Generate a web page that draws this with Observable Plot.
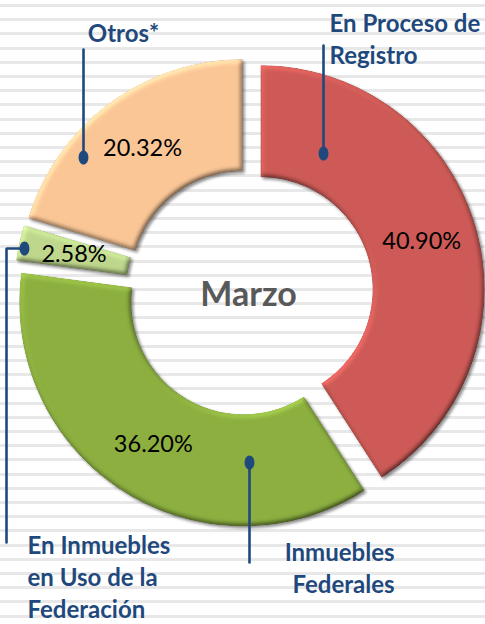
<!DOCTYPE html>
<html>
<head>
<meta charset="utf-8">
<script src="https://cdn.jsdelivr.net/npm/d3@7"></script>
<script src="https://cdn.jsdelivr.net/npm/@observablehq/plot@0.6"></script>
<style>
  html, body { margin: 0; padding: 0; }
  body {
    width: 485px; height: 624px; overflow: hidden;
    background: repeating-linear-gradient(180deg, #ffffff 0px, #ffffff 4px, #e8e8e8 4px, #e8e8e8 7px, #ffffff 7px, #ffffff 14.2px);
  }
  #chart svg { display: block; }
</style>
</head>
<body>
<div id="chart"></div>
<script>
// ---- data ----
const categories = ["En Proceso de Registro", "Inmuebles Federales", "En Inmuebles en Uso de la Federación", "Otros*"];
const values = [40.90, 36.20, 2.58, 20.32];
const valueLabels = ["40.90%", "36.20%", "2.58%", "20.32%"];
const calloutTexts = ["En Proceso de\nRegistro", "Inmuebles\nFederales", "En Inmuebles\nen Uso de la\nFederación", "Otros*"];
const centerLabel = "Marzo";

// ---- styles / layout ----
const sliceColors = ["#CD5A56", "#8CAF40", "#BED78C", "#FAC696"];
const W = 485, H = 624;
const geom = {cx: 249, cy: 292, outer: 224, inner: 112, explode: 11.5};
const ink = "#1F497D";
// callout layout: leader path (dot first), label anchor
const calloutLayout = [
  {path: [[323, 153], [323, 45]], tx: 329, ty: 63, anchor: "start"},
  {path: [[249, 462], [249, 562]], tx: 394, ty: 592, anchor: "end"},
  {path: [[24, 248], [6, 248], [6, 542]], tx: 27, ty: 617, anchor: "start"},
  {path: [[83, 157], [83, 49]], tx: 123, ty: 41, anchor: "middle"}
];

// ---- build slice geometry from values ----
const arcs = d3.pie().sort(null).value(d => d)(values);
const slices = arcs.map((a, i) => {
  const mid = (a.startAngle + a.endAngle) / 2;
  const ox = geom.cx + geom.explode * Math.sin(mid);
  const oy = geom.cy - geom.explode * Math.cos(mid);
  return {key: categories[i], a0: a.startAngle, a1: a.endAngle, mid, ox, oy, label: valueLabels[i]};
});
const polyPts = [];
for (const s of slices) {
  const N = Math.max(8, Math.ceil((s.a1 - s.a0) * 60));
  for (let k = 0; k <= N; k++) {
    const a = s.a0 + (s.a1 - s.a0) * k / N;
    polyPts.push({key: s.key, x: s.ox + geom.outer * Math.sin(a), y: s.oy - geom.outer * Math.cos(a)});
  }
  for (let k = N; k >= 0; k--) {
    const a = s.a0 + (s.a1 - s.a0) * k / N;
    polyPts.push({key: s.key, x: s.ox + geom.inner * Math.sin(a), y: s.oy - geom.inner * Math.cos(a)});
  }
}
const rMid = (geom.outer + geom.inner) / 2;
const valueLabelPts = slices.map(s => ({label: s.label, x: s.ox + rMid * Math.sin(s.mid), y: s.oy - rMid * Math.cos(s.mid)}));

const leaderPts = [];
calloutLayout.forEach((c, i) => c.path.forEach(([x, y]) => leaderPts.push({key: categories[i], x, y})));
const dotPts = calloutLayout.map((c, i) => ({key: categories[i], x: c.path[0][0], y: c.path[0][1]}));
const calloutPts = calloutLayout.map((c, i) => ({text: calloutTexts[i], x: c.tx, y: c.ty, anchor: c.anchor}));

// tall ellipse symbol for the leader end dots
const ellipseSymbol = {
  draw(ctx, size) {
    const r = Math.sqrt(size / Math.PI), rx = r * 0.82, ry = r * 1.18, k = 0.5523;
    ctx.moveTo(rx, 0);
    ctx.bezierCurveTo(rx, ry * k, rx * k, ry, 0, ry);
    ctx.bezierCurveTo(-rx * k, ry, -rx, ry * k, -rx, 0);
    ctx.bezierCurveTo(-rx, -ry * k, -rx * k, -ry, 0, -ry);
    ctx.bezierCurveTo(rx * k, -ry, rx, -ry * k, rx, 0);
    ctx.closePath();
  }
};

const font = "Lato, 'Open Sans', sans-serif";

const chart = Plot.plot({
  width: W, height: H, margin: 0,
  style: {background: "transparent", overflow: "visible"},
  x: {domain: [0, W], range: [0, W], axis: null},
  y: {domain: [0, H], range: [0, H], axis: null},
  color: {domain: categories, range: sliceColors},
  marks: [
    Plot.line(polyPts, {x: "x", y: "y", z: "key", fill: "key", stroke: "none", curve: "linear"}),
    Plot.text(valueLabelPts, {x: "x", y: "y", text: "label", fill: "#000", fontSize: 23.5, fontFamily: font, lineAnchor: "middle"}),
    Plot.text([centerLabel], {x: [geom.cx - 1], y: [geom.cy + 3], text: d => d, fill: "#595959", fontSize: 34, fontWeight: "bold", fontFamily: font, lineAnchor: "middle"}),
    Plot.line(leaderPts, {x: "x", y: "y", z: "key", stroke: ink, strokeWidth: 2.6, strokeLinejoin: "miter"}),
    Plot.dot(dotPts, {x: "x", y: "y", r: 6, symbol: ellipseSymbol, fill: ink, stroke: "none"}),
    ...["start", "middle", "end"].map(anc =>
      Plot.text(calloutPts.filter(d => d.anchor === anc), {x: "x", y: "y", text: "text", textAnchor: anc, lineAnchor: "bottom", lineHeight: 1.33, fill: ink, fontSize: 24, fontWeight: "bold", fontFamily: font})
    )
  ]
});

// bevel / shadow filter applied to slices
const ns = "http://www.w3.org/2000/svg";
const defs = document.createElementNS(ns, "defs");
defs.innerHTML = `
<filter id="bevel" x="-10%" y="-10%" width="125%" height="125%" color-interpolation-filters="sRGB">
  <feGaussianBlur in="SourceAlpha" stdDeviation="2.5" result="blur"/>
  <feDiffuseLighting in="blur" surfaceScale="2" diffuseConstant="1" lighting-color="#ffffff" result="diff">
    <feDistantLight azimuth="235" elevation="58"/>
  </feDiffuseLighting>
  <feComposite in="SourceGraphic" in2="diff" operator="arithmetic" k1="1.18" k2="0" k3="0" k4="0" result="lit"/>
  <feComposite in="lit" in2="SourceAlpha" operator="in" result="litIn"/>
  <feGaussianBlur in="SourceAlpha" stdDeviation="1.6" result="sh"/>
  <feOffset in="sh" dx="1.5" dy="2" result="sho"/>
  <feComponentTransfer in="sho" result="shadow"><feFuncA type="linear" slope="0.45"/></feComponentTransfer>
  <feMerge><feMergeNode in="shadow"/><feMergeNode in="litIn"/></feMerge>
</filter>`;
chart.insertBefore(defs, chart.firstChild);
const sliceGroup = chart.querySelector('g[aria-label="line"]');
if (sliceGroup) sliceGroup.querySelectorAll("path").forEach(p => p.setAttribute("filter", "url(#bevel)"));

document.getElementById("chart").appendChild(chart);
</script>
</body>
</html>
